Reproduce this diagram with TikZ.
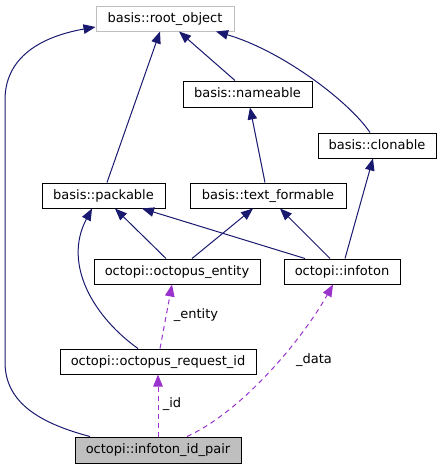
\documentclass[tikz,border=0pt]{standalone}
\usepackage{fontspec}
\setmainfont{DejaVu Sans}
\usetikzlibrary{arrows.meta}
\definecolor{edgeblue}{HTML}{191970}
\definecolor{edgepurple}{HTML}{9A32CD}
\definecolor{boxgray}{HTML}{BFBFBF}
\tikzset{
  cls/.style={draw=black, line width=1pt, inner sep=0pt, font=\fontsize{13}{15}\selectfont, text height=9.5pt, text depth=2.5pt},
  inh/.style={draw=edgeblue, line width=1pt, -{Triangle[length=12pt,width=9.5pt]}},
  use/.style={draw=edgepurple, line width=1pt, dash pattern=on 5pt off 4pt, -{Triangle[length=12pt,width=9.5pt]}},
  lbl/.style={font=\fontsize{13}{15}\selectfont, inner sep=0pt}
}
\begin{document}
\begin{tikzpicture}[x=1pt,y=-1pt]
\useasboundingbox (0,0) rectangle (442,469);
\node[cls, draw=boxgray, minimum width=138pt, minimum height=25pt] (root) at (165,18.5) {basis::root\_object};
\node[cls, minimum width=129pt, minimum height=26pt] (name) at (247.5,94) {basis::nameable};
\node[cls, minimum width=118pt, minimum height=25pt] (clon) at (377,145.5) {basis::clonable};
\node[cls, minimum width=123pt, minimum height=25pt] (pack) at (103.5,195.5) {basis::packable};
\node[cls, minimum width=156pt, minimum height=25pt] (tf) at (268,195.5) {basis::text\_formable};
\node[cls, minimum width=166pt, minimum height=25pt] (ent) at (177,271.5) {octopi::octopus\_entity};
\node[cls, minimum width=116pt, minimum height=25pt] (inf) at (342,271.5) {octopi::infoton};
\node[cls, minimum width=196pt, minimum height=25pt] (req) at (158,361.5) {octopi::octopus\_request\_id};
\node[cls, fill=boxgray, minimum width=166pt, minimum height=26pt] (pair) at (158,450) {octopi::infoton\_id\_pair};

\draw[inh] ([xshift=3.5pt]pack.north) -- ([xshift=-5pt]root.south);
\draw[inh] ([xshift=-12.5pt]name.north) -- ([xshift=14pt]root.south);
\draw[inh] ([xshift=-7pt]clon.north) .. controls (348,100) and (280,50) .. ([xshift=51pt]root.south);
\draw[inh] ([xshift=-3pt]tf.north) -- ([xshift=2.5pt]name.south);
\draw[inh] ([xshift=3pt]inf.north) -- ([xshift=-4pt]clon.south);
\draw[inh] ([xshift=-11pt]ent.north) -- ([xshift=11.5pt]pack.south);
\draw[inh] ([xshift=-37pt]inf.north) -- ([xshift=38.5pt]pack.south);
\draw[inh] ([xshift=15pt]ent.north) -- ([xshift=-15pt]tf.south);
\draw[inh] ([xshift=-12pt]inf.north) -- ([xshift=12pt]tf.south);
\draw[inh] ([xshift=-20pt]req.north) .. controls (95,318) and (62,265) .. ([xshift=-11.5pt]pack.south);
\coordinate (lb) at (5,362);
\coordinate (lt) at (5,100);
\draw[inh] ([xshift=-68pt]pair.north) .. controls (35,422) and (5,400) .. (lb) -- (lt) .. controls (5,52) and (50,35) .. ([yshift=-8.5pt]root.west);

\draw[use] ([xshift=2pt]req.north) -- ([xshift=-5pt]ent.south);
\node[lbl] (lent) at (196,315) {\_entity};
\draw[use] (pair.north) -- (req.south);
\node[lbl] (lid) at (172,404) {\_id};
\draw[use] ([xshift=29pt]pair.north) .. controls (245,410) and (305,335) .. ([xshift=-9pt]inf.south);
\node[lbl] (ldata) at (314,360) {\_data};
\end{tikzpicture}
\end{document}
